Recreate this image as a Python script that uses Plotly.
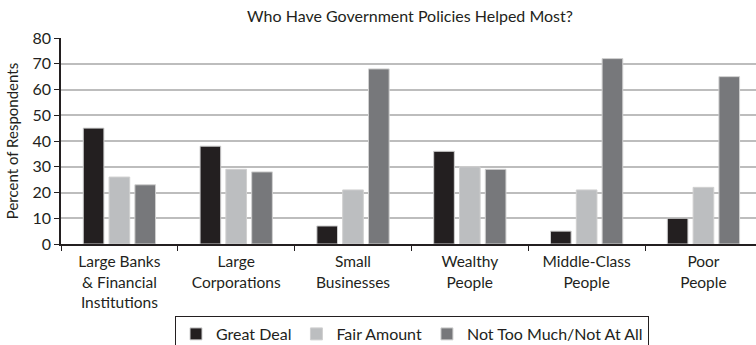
import plotly.graph_objects as go

# Survey categories and responses (percent of respondents)
categories = [
    "Large Banks<br>& Financial<br>Institutions",
    "Large<br>Corporations",
    "Small<br>Businesses",
    "Wealthy<br>People",
    "Middle-Class<br>People",
    "Poor<br>People",
]
great_deal = [45, 38, 7, 36, 5, 10]
fair_amount = [26, 29, 21, 30, 21, 22]
not_too_much = [23, 28, 68, 29, 72, 65]

series_names = ["Great Deal", "Fair Amount", "Not Too Much/Not At All"]
series_colors = ["#231f20", "#bcbec0", "#77787b"]

FONT = "Lato, 'Open Sans', sans-serif"
INK = "#231f20"

fig = go.Figure()
for name, vals, color in zip(series_names, [great_deal, fair_amount, not_too_much], series_colors):
    fig.add_trace(go.Bar(
        x=categories,
        y=vals,
        name=name,
        marker=dict(color=color, line=dict(color="#d0d0d0", width=1)),
    ))

fig.update_layout(
    width=756,
    height=345,
    # fixed margins: the legend box runs off the bottom edge
    margin=dict(l=61, r=0, t=38, b=101, autoexpand=False),
    paper_bgcolor="white",
    plot_bgcolor="white",
    font=dict(family=FONT, size=15, color=INK),
    barmode="group",
    bargap=0.337,
    bargroupgap=0.2,
    title=dict(
        text="Who Have Government Policies Helped Most?",
        x=410 / 756, xref="container", xanchor="center",
        y=1 - 16 / 345, yref="container", yanchor="middle",
        font=dict(family=FONT, size=16, color=INK),
    ),
    showlegend=True,
    legend=dict(
        orientation="h",
        x=(412 - 61) / 695, xanchor="center",
        y=(244 - 316) / 206, yanchor="top",
        bordercolor=INK, borderwidth=1,
        bgcolor="white",
        font=dict(family=FONT, size=16, color=INK),
    ),
)

fig.update_xaxes(
    type="category",
    range=[-0.5, 5.45],
    tickson="boundaries",
    ticks="outside",
    ticklen=5,
    tickcolor=INK,
    ticklabelstandoff=3,
    showline=True,
    linecolor=INK,
    linewidth=1.5,
    showgrid=False,
    tickfont=dict(family=FONT, size=15.5, color=INK),
)

fig.update_yaxes(
    range=[0, 80],
    dtick=10,
    ticks="outside",
    ticklen=5,
    tickcolor=INK,
    showline=True,
    linecolor=INK,
    linewidth=1.5,
    showgrid=True,
    gridcolor="#bdbdbd",
    gridwidth=1.5,
    zeroline=False,
    tickfont=dict(family=FONT, size=16, color=INK),
    title=dict(text="Percent of Respondents", standoff=10,
               font=dict(family=FONT, size=15, color=INK)),
)

fig.write_html("out.html")
